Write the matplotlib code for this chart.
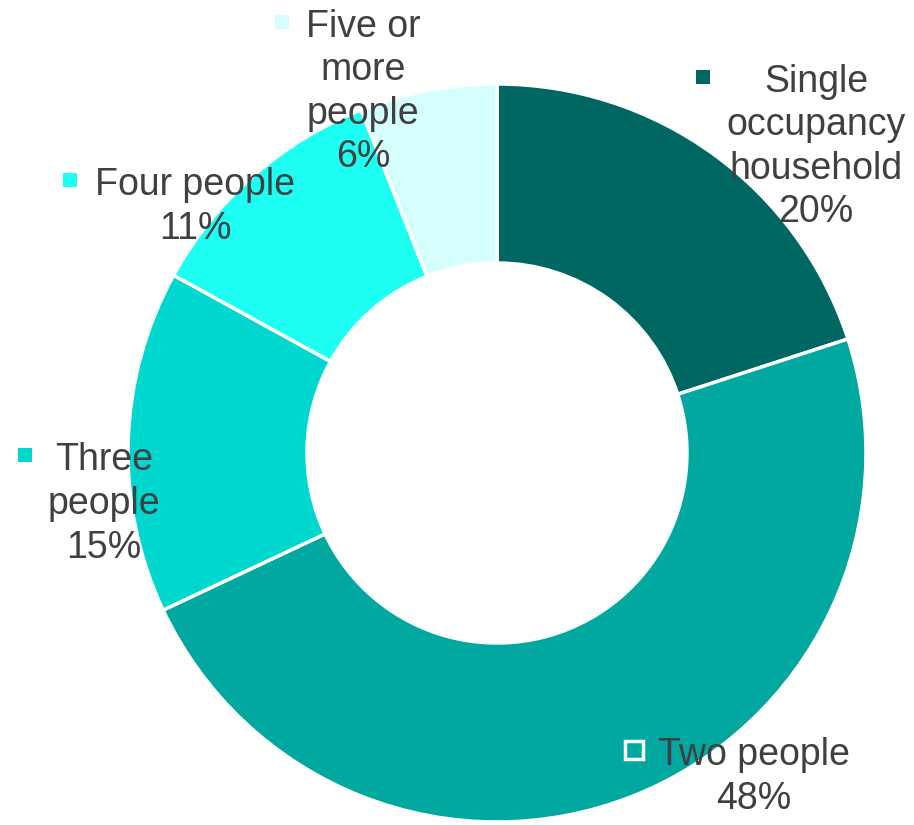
import matplotlib
matplotlib.use("Agg")
import matplotlib.pyplot as plt

# Household size distribution
categories = ["Single\noccupancy\nhousehold", "Two people", "Three\npeople", "Four people", "Five or\nmore\npeople"]
shares = [20, 48, 15, 11, 6]
colors = ["#006661", "#00A89F", "#00D8CF", "#1EFFF4", "#D4FFFC"]

W, H = 914, 825
fig = plt.figure(figsize=(W / 100, H / 100), dpi=100)
ax = fig.add_axes([0, 0, 1, 1])

cx, cy = 497, H - 453
R, ring = 369, 179

ax.pie(shares, colors=colors, startangle=90, counterclock=False,
       center=(cx, cy), radius=R,
       wedgeprops=dict(width=ring, edgecolor="white", linewidth=2.5))

ax.set_xlim(0, W)
ax.set_ylim(0, H)
ax.set_aspect("equal")
ax.axis("off")

# label block: (text centre x, block centre y, legend key x, key y, key size, key edge)
layout = [
    (816, 147, 703, 77, 10.5, None),
    (754, 777, 634, 750, 13, "white"),
    (104, 504, 25, 455, 10.5, None),
    (195, 207, 70, 180, 10.5, None),
    (363, 92, 282, 22, 10.5, None),
]

text_color = "#404040"
for name, val, col, (tx, ty, mx, my, ms, edge) in zip(categories, shares, colors, layout):
    label = f"{name}\n{val}%"
    ax.text(tx, H - ty, label, ha="center", va="center", fontsize=27,
            family="Liberation Sans", color=text_color, linespacing=1.27,
            transform=ax.transData)
    ax.plot([mx], [H - my], marker="s", markersize=ms,
            markerfacecolor=col,
            markeredgecolor=edge if edge else col,
            markeredgewidth=2.5 if edge else 0, linestyle="none")

fig.savefig("out.png", dpi=100)
